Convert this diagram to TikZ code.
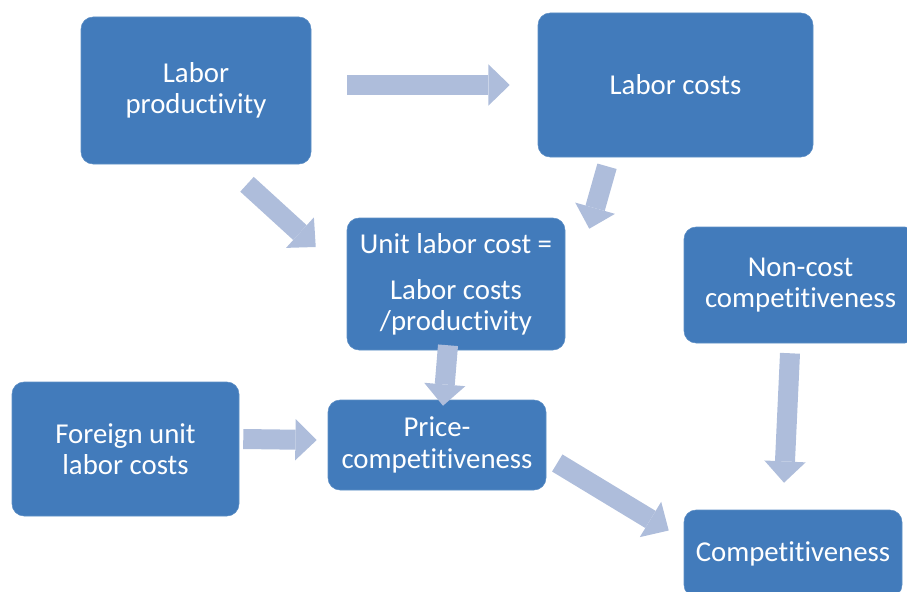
\documentclass[tikz,border=0pt]{standalone}
\usepackage{fontspec}
\setmainfont{Carlito}[Ligatures=NoCommon]
\usetikzlibrary{arrows.meta, positioning, calc}
\definecolor{smart_blue}{HTML}{427BBB}
\definecolor{smart_arrow}{HTML}{AEBDDB}
\colorlet{boxblue}{smart_blue}
\colorlet{flowblue}{smart_arrow}
\tikzset{
  factor/.style={rectangle,rounded corners=9pt,fill=boxblue,draw=boxblue!85!white,text=white,align=center,inner sep=0pt,font={\fontsize{21.6}{23.5}\selectfont}},
  flow/.style={draw=flowblue,line width=15pt,-{Triangle[line width=0pt,length=16pt,width=31pt]}},
}

\begin{document}
\begin{tikzpicture}[x=0.75pt,y=-0.75pt]
	    \useasboundingbox (0,0) rectangle (907,592);
	    \clip (0,0) rectangle (907,592);
	    \node[factor,minimum width=172.5pt,minimum height=110.25pt] (prod) at (196,90.5) {Labor\\productivity};
	    \node[factor,minimum width=206.25pt,minimum height=108pt] (costs) at (675.5,85) {Labor costs};
	    \node[factor,minimum width=163.5pt,minimum height=99pt] (unit) at (456,284) {Unit labor cost =\\[11pt]Labor costs\\/productivity};
	    \node[factor,minimum width=174.75pt,minimum height=87pt] (noncost) at (800.5,285) {Non-cost\\competitiveness};
	    \node[factor,minimum width=170.25pt,minimum height=100.5pt] (foreign) at (125.5,449) {Foreign unit\\labor costs};
	    \node[factor,minimum width=163.5pt,minimum height=67.5pt] (price) at (437,445) {Price-\\competitiveness};
	    \node[factor,minimum width=163.5pt,minimum height=65.25pt] (comp) at (793,553.5) {Competitiveness};
	    % block arrows between the boxes
	    \draw[flow] ([shift={(36,-5.5)}]prod.east) -- ([shift={(-28,0)}]costs.west);
	    \draw[flow] ([shift={(51,20)}]prod.south) -- ([shift={(-31,-37)}]unit.west);
	    \draw[flow] ([shift={(-68.5,9)}]costs.south) -- ([shift={(24,11)}]unit.north east);
	    \draw[flow] ([shift={(-8,-5)}]unit.south) -- ([shift={(6,6)}]price.north);
	    \draw[flow] ([shift={(4,-10)}]foreign.east) -- ([shift={(-11,-5)}]price.west);
	    \draw[flow] ([shift={(11,18)}]price.east) -- ([shift={(-15,-23)}]comp.west);
	    \draw[flow] ([shift={(-10.5,10)}]noncost.south) -- ([shift={(-9,-27)}]comp.north);
	\end{tikzpicture}
\end{document}
